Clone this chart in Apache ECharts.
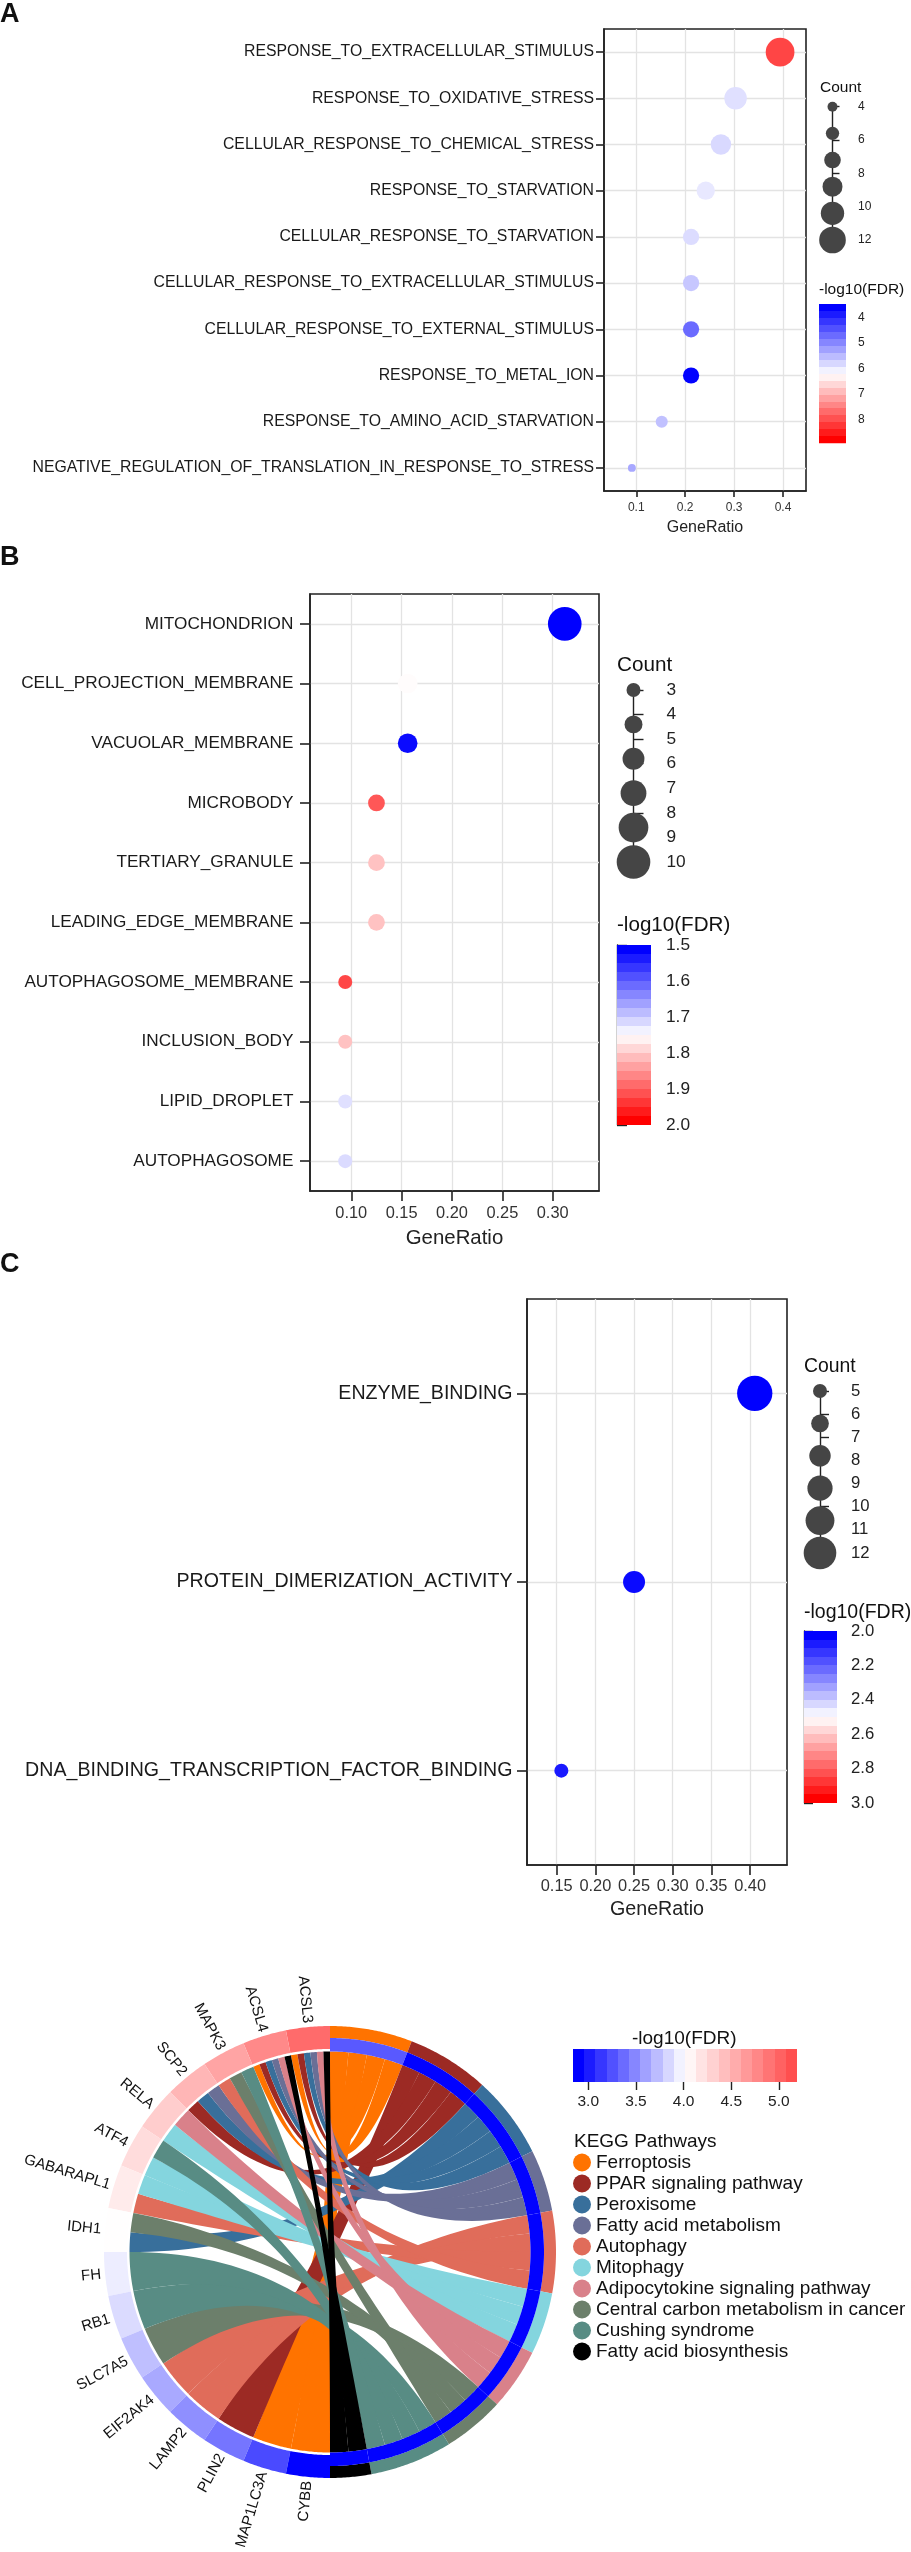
<!DOCTYPE html>
<html>
<head>
<meta charset="utf-8">
<script src="https://cdn.jsdelivr.net/npm/echarts@6/dist/echarts.min.js"></script>
<style>
  html, body { margin: 0; padding: 0; background: #fff; }
  #main { width: 911px; height: 2552px; }
</style>
</head>
<body>
<div id="main"></div>
<script>
// ---- A: biological process ----
const bpTerms = ['RESPONSE_TO_EXTRACELLULAR_STIMULUS', 'RESPONSE_TO_OXIDATIVE_STRESS', 'CELLULAR_RESPONSE_TO_CHEMICAL_STRESS',
  'RESPONSE_TO_STARVATION', 'CELLULAR_RESPONSE_TO_STARVATION', 'CELLULAR_RESPONSE_TO_EXTRACELLULAR_STIMULUS',
  'CELLULAR_RESPONSE_TO_EXTERNAL_STIMULUS', 'RESPONSE_TO_METAL_ION', 'RESPONSE_TO_AMINO_ACID_STARVATION',
  'NEGATIVE_REGULATION_OF_TRANSLATION_IN_RESPONSE_TO_STRESS'];
const bpRatio = [0.394, 0.303, 0.273, 0.242, 0.212, 0.212, 0.212, 0.212, 0.152, 0.091];
const bpCount = [13, 10, 9, 8, 7, 7, 7, 7, 5, 3];
const bpFdr = [8.2, 5.88, 5.8, 5.96, 5.83, 5.61, 4.63, 3.5, 5.55, 5.28];

// ---- B: cellular component ----
const ccTerms = ['MITOCHONDRION', 'CELL_PROJECTION_MEMBRANE', 'VACUOLAR_MEMBRANE', 'MICROBODY', 'TERTIARY_GRANULE',
  'LEADING_EDGE_MEMBRANE', 'AUTOPHAGOSOME_MEMBRANE', 'INCLUSION_BODY', 'LIPID_DROPLET', 'AUTOPHAGOSOME'];
const ccRatio = [0.312, 0.156, 0.156, 0.125, 0.125, 0.125, 0.094, 0.094, 0.094, 0.094];
const ccCount = [10, 5, 5, 4, 4, 4, 3, 3, 3, 3];
const ccFdr = [1.5, 1.753, 1.51, 1.915, 1.81, 1.81, 1.93, 1.81, 1.72, 1.715];

// ---- C: molecular function ----
const mfTerms = ['ENZYME_BINDING', 'PROTEIN_DIMERIZATION_ACTIVITY', 'DNA_BINDING_TRANSCRIPTION_FACTOR_BINDING'];
const mfRatio = [0.406, 0.25, 0.156];
const mfCount = [13, 8, 5];
const mfFdr = [2.0, 2.02, 2.05];

// legend breaks / ticks
const bpCountBreaks = [4, 5.6, 7.2, 8.8, 10.4, 12];
const ccCountBreaks = [3, 4.4, 5.8, 7.2, 8.6, 10];
const mfCountBreaks = [5, 6.4, 7.8, 9.2, 10.6, 12];
const bpRatioTicks = [0.1, 0.2, 0.3, 0.4];
const ccRatioTicks = [0.10, 0.15, 0.20, 0.25, 0.30];
const mfRatioTicks = [0.15, 0.20, 0.25, 0.30, 0.35, 0.40];
const bpFdrTicks = [4, 5, 6, 7, 8];
const ccFdrTicks = [1.5, 1.6, 1.7, 1.8, 1.9, 2.0];
const mfFdrTicks = [2.0, 2.2, 2.4, 2.6, 2.8, 3.0];

// ---- KEGG chord ----
const genes = ['ACSL3', 'ACSL4', 'MAPK3', 'SCP2', 'RELA', 'ATF4', 'GABARAPL1', 'IDH1',
  'FH', 'RB1', 'SLC7A5', 'EIF2AK4', 'LAMP2', 'PLIN2', 'MAP1LC3A', 'CYBB'];
const geneFdr = [5.0, 4.8, 4.62, 4.5, 4.35, 4.25, 4.15, 4.02, 3.93, 3.85, 3.72, 3.62, 3.5, 3.38, 3.18, 2.85];
const pathways = ['Ferroptosis', 'PPAR signaling pathway', 'Peroxisome', 'Fatty acid metabolism', 'Autophagy',
  'Mitophagy', 'Adipocytokine signaling pathway', 'Central carbon metabolism in cancer', 'Cushing syndrome',
  'Fatty acid biosynthesis'];
const pathwayColors = ['#ff7300', '#9c2a24', '#386f9b', '#6a6f96', '#e06c5a', '#84d5de', '#d9818a', '#6c7f6b', '#588c84', '#000000'];
const pathwayFdr = [3.25, 2.85, 2.85, 2.85, 2.85, 2.85, 2.85, 2.85, 2.85, 2.85];
const pathwayGenes = [
  ['ACSL3', 'ACSL4', 'MAP1LC3A', 'CYBB'],
  ['ACSL3', 'ACSL4', 'SCP2', 'PLIN2'],
  ['ACSL3', 'ACSL4', 'SCP2', 'IDH1'],
  ['ACSL3', 'ACSL4', 'SCP2'],
  ['MAPK3', 'GABARAPL1', 'EIF2AK4', 'LAMP2'],
  ['RELA', 'ATF4', 'GABARAPL1'],
  ['ACSL3', 'ACSL4', 'RELA'],
  ['MAPK3', 'IDH1', 'SLC7A5'],
  ['MAPK3', 'ATF4', 'FH', 'RB1'],
  ['ACSL3', 'ACSL4']
];
const chordFdrTicks = [3.0, 3.5, 4.0, 4.5, 5.0];

const FONT = '"Liberation Sans", Arial, Helvetica, sans-serif';
const FDR_COLORS = ['#0000ff', '#ffffff', '#ff0000'];
const CHORD_COLORS = ['#0000ff', '#ffffff', '#ff4f4f'];

function hexRgb(h) { return [1, 3, 5].map(i => parseInt(h.substr(i, 2), 16)); }
function lerpColor(cols, t) {
  const n = cols.length - 1;
  const s = Math.min(n - 1, Math.floor(t * n));
  const f = t * n - s;
  const a = hexRgb(cols[s]), b = hexRgb(cols[s + 1]);
  return 'rgb(' + a.map((v, k) => Math.round(v + (b[k] - v) * f)).join(',') + ')';
}
// ggplot-like stepped colourbar (20 bins)
function stepGradient(cols, horizontal) {
  const bins = 20, stops = [];
  for (let i = 0; i < bins; i++) {
    const c = lerpColor(cols, i / (bins - 1));
    stops.push({ offset: i / bins, color: c }, { offset: (i + 1) / bins, color: c });
  }
  return new echarts.graphic.LinearGradient(0, 0, horizontal ? 1 : 0, horizontal ? 0 : 1, stops);
}
function barRender(cols, horizontal) {
  return function (params, api) {
    const a = api.coord([api.value(0), api.value(1)]);
    const b = api.coord([api.value(2), api.value(3)]);
    return {
      type: 'rect',
      shape: { x: Math.min(a[0], b[0]), y: Math.min(a[1], b[1]), width: Math.abs(b[0] - a[0]), height: Math.abs(b[1] - a[1]) },
      style: { fill: stepGradient(cols, horizontal) }
    };
  };
}

const option = {
  animation: false,
  backgroundColor: '#fff',
  textStyle: { fontFamily: FONT },
  title: [], grid: [], xAxis: [], yAxis: [], series: [], visualMap: [], legend: []
};

function addTitle(text, left, top, size, bold) {
  option.title.push({ text, left, top, padding: 0,
    textStyle: { fontSize: size, fontWeight: bold ? 'bold' : 'normal', color: '#111', fontFamily: FONT } });
}

function dotPanel(p) {
  const line = { color: '#222', width: 1.6 };
  const grid = { color: '#e3e3e3', width: 1.3 };
  const g = option.grid.length;
  option.grid.push({ left: p.box[0], top: p.box[1], width: p.box[2], height: p.box[3], show: true, borderColor: '#222', borderWidth: 1.6 });
  option.xAxis.push({
    gridIndex: g, type: 'value', min: p.xMin, max: p.xMax,
    axisLine: { show: true, onZero: false, lineStyle: line },
    axisTick: { show: true, length: p.xTickLen, customValues: p.xTicks, lineStyle: line },
    axisLabel: { customValues: p.xTicks, formatter: v => v.toFixed(p.dec), fontSize: p.tickSize, color: '#333', margin: p.xLabelMargin },
    splitLine: { show: true, customValues: p.xTicks, lineStyle: grid },
    name: 'GeneRatio', nameLocation: 'middle', nameGap: p.nameGap,
    nameTextStyle: { fontSize: p.nameSize, color: '#222' }
  });
  option.yAxis.push({
    gridIndex: g, type: 'category', data: p.terms, inverse: true,
    axisLine: { show: true, lineStyle: line },
    axisTick: { show: true, length: p.yTickLen, alignWithLabel: true, lineStyle: line },
    axisLabel: { fontSize: p.termSize, color: '#1a1a1a', margin: p.yLabelMargin },
    splitLine: { show: true, alignWithLabel: true, lineStyle: grid }
  });
  const s = option.series.length;
  option.series.push({
    type: 'scatter', xAxisIndex: g, yAxisIndex: g, silent: true, z: 3,
    data: p.terms.map((t, i) => [p.ratio[i], t, p.fdr[i], p.count[i]]),
    symbolSize: v => p.size(v[3]),
    itemStyle: { opacity: 1 }
  });
  option.visualMap.push({ type: 'continuous', show: false, seriesIndex: s, dimension: 2,
    min: p.fdrMin, max: p.fdrMax, inRange: { color: FDR_COLORS } });

  // Count legend: circles on their own value axis
  const c = p.cnt;
  const lg = option.grid.length;
  option.grid.push({ left: c.box[0], top: c.box[1], width: c.box[2], height: c.box[3] });
  option.xAxis.push({ gridIndex: lg, type: 'value', min: -1, max: 1, show: false });
  option.yAxis.push({
    gridIndex: lg, type: 'value', position: 'right', inverse: true, min: c.min, max: c.max, interval: c.step,
    axisLine: { show: true, lineStyle: { color: '#222', width: 1.4 } },
    axisTick: { show: true, length: c.tick, lineStyle: { color: '#222', width: 1.4 } },
    axisLabel: { fontSize: c.font, color: '#222', margin: c.margin },
    splitLine: { show: false }
  });
  option.series.push({
    type: 'scatter', xAxisIndex: lg, yAxisIndex: lg, silent: true,
    data: c.breaks.map(v => [0, v]),
    symbolSize: v => p.size(v[1]),
    itemStyle: { color: '#454545', opacity: 1 }
  });

  // -log10(FDR) colourbar
  const b = p.bar;
  const cg = option.grid.length;
  option.grid.push({ left: b.box[0], top: b.box[1], width: b.box[2], height: b.box[3] });
  option.xAxis.push({ gridIndex: cg, type: 'value', min: 0, max: 1, show: false });
  option.yAxis.push({
    gridIndex: cg, type: 'value', position: 'right', inverse: true, min: p.fdrMin, max: p.fdrMax,
    axisLine: { show: b.line, lineStyle: { color: '#222', width: 1.4 } },
    axisTick: { show: true, length: b.tick, customValues: b.ticks, lineStyle: { color: '#222', width: 1.4 } },
    axisLabel: { customValues: b.ticks, formatter: v => v.toFixed(b.dec), fontSize: c.font, color: '#222', margin: b.margin },
    splitLine: { show: false }
  });
  option.series.push({ type: 'custom', xAxisIndex: cg, yAxisIndex: cg, silent: true,
    data: [[0, p.fdrMin, 1, p.fdrMax]], renderItem: barRender(FDR_COLORS, false) });

  addTitle('Count', c.title[0], c.title[1], c.title[2]);
  addTitle('-log10(FDR)', b.title[0], b.title[1], b.title[2]);
}

dotPanel({
  terms: bpTerms, ratio: bpRatio, count: bpCount, fdr: bpFdr,
  box: [604, 29, 202, 462], xMin: 0.034, xMax: 0.447, xTicks: bpRatioTicks, dec: 1,
  xTickLen: 6, tickSize: 12, xLabelMargin: 11, nameGap: 29, nameSize: 16,
  yTickLen: 8, termSize: 15.8, yLabelMargin: 10,
  fdrMin: 3.48, fdrMax: 8.94, size: n => 1.667 + 2.083 * n,
  cnt: { box: [818, 106.7, 29, 133.3], min: 4, max: 12, step: 2, breaks: bpCountBreaks, tick: 7, font: 12, margin: 11, title: [820, 80, 15.5] },
  bar: { box: [819, 304, 27, 139.3], ticks: bpFdrTicks, dec: 0, tick: 9, margin: 12, line: false, title: [819, 282, 15.5] }
});

dotPanel({
  terms: ccTerms, ratio: ccRatio, count: ccCount, fdr: ccFdr,
  box: [310, 594, 289, 597], xMin: 0.059, xMax: 0.346, xTicks: ccRatioTicks, dec: 2,
  xTickLen: 10, tickSize: 16.4, xLabelMargin: 14, nameGap: 37, nameSize: 20.4,
  yTickLen: 10, termSize: 17.2, yLabelMargin: 16.6,
  fdrMin: 1.5, fdrMax: 2.0, size: n => 5.56 + 2.81 * n,
  cnt: { box: [615, 690, 37, 172], min: 3, max: 10, step: 1, breaks: ccCountBreaks, tick: 10, font: 17.3, margin: 14.5, title: [617, 654.5, 20.7] },
  bar: { box: [617, 945, 34, 180], ticks: ccFdrTicks, dec: 1, tick: 10, margin: 15, line: true, title: [617, 914.7, 20.6] }
});

dotPanel({
  terms: mfTerms, ratio: mfRatio, count: mfCount, fdr: mfFdr,
  box: [527, 1299, 260, 566], xMin: 0.1116, xMax: 0.4477, xTicks: mfRatioTicks, dec: 2,
  xTickLen: 10, tickSize: 16.4, xLabelMargin: 13, nameGap: 35, nameSize: 19.7,
  yTickLen: 10, termSize: 19.6, yLabelMargin: 14.5,
  fdrMin: 2.0, fdrMax: 3.0, size: n => 0.7 + 2.66 * n,
  cnt: { box: [803, 1391, 34, 162], min: 5, max: 12, step: 1, breaks: mfCountBreaks, tick: 9, font: 16.7, margin: 14, title: [804, 1357, 19.4] },
  bar: { box: [804, 1631, 33, 172], ticks: mfFdrTicks, dec: 1, tick: 9, margin: 14, line: true, title: [804, 1603, 19.5] }
});

addTitle('A', 0, 1, 27, true);
addTitle('B', 0, 544, 27, true);
addTitle('C', 0, 1251, 27, true);

// ---- chord layout (GOChord style: genes left half, pathways right half) ----
const R_OUT = 226, R_MID = 214, R_GENE_IN = 203, R_LINK = 200.5, R_LABEL = 230;
option.polar = [{ center: [330, 2252], radius: R_OUT }];
option.angleAxis = [{ polarIndex: 0, type: 'value', min: 0, max: 360, startAngle: 90, clockwise: true, show: false }];
option.radiusAxis = [{ polarIndex: 0, type: 'value', min: 0, max: R_OUT, show: false }];

const nLinks = pathwayGenes.reduce((s, a) => s + a.length, 0);
const pUnit = 180 / nLinks;
const gSpan = 180 / genes.length;
const geneLinks = genes.map(g => pathways.map((p, j) => j).filter(j => pathwayGenes[j].includes(g)));
let acc = 0;
const pathArcs = pathwayGenes.map(list => { const a0 = acc; acc += list.length * pUnit; return [a0, acc]; });
function geneArc(gi, j) {
  const k = geneLinks[gi].indexOf(j), w = gSpan / geneLinks[gi].length;
  const a0 = 360 - gSpan * (gi + 1);
  return [a0 + k * w, a0 + (k + 1) * w];
}
const ribbonData = pathwayGenes.map((list, j) =>
  list.map(g => genes.indexOf(g)).sort((a, b) => b - a).map((gi, k) => {
    const ga = geneArc(gi, j), p0 = pathArcs[j][0] + k * pUnit;
    return [ga[0], ga[1], p0, p0 + pUnit];
  }));

function arc(api, a0, a1, r) {
  const n = Math.max(2, Math.ceil(Math.abs(a1 - a0) / 0.5)), pts = [];
  for (let k = 0; k <= n; k++) pts.push(api.coord([r, a0 + (a1 - a0) * k / n]));
  return pts;
}
function bezier(p0, c, p2) {
  const pts = [];
  for (let k = 1; k < 40; k++) {
    const t = k / 40, u = 1 - t;
    pts.push([u * u * p0[0] + 2 * u * t * c[0] + t * t * p2[0], u * u * p0[1] + 2 * u * t * c[1] + t * t * p2[1]]);
  }
  return pts;
}
function ribbonPoints(api, g0, g1, p0, p1) {
  const c = api.coord([0, 0]);
  const ga = arc(api, g0, g1, R_LINK), pa = arc(api, p0, p1, R_LINK);
  return ga.concat(bezier(ga[ga.length - 1], c, pa[0]), pa, bezier(pa[pa.length - 1], c, ga[0]));
}

pathways.forEach((name, j) => {
  option.series.push({
    type: 'custom', name, coordinateSystem: 'polar', polarIndex: 0, silent: true, z: 2, clip: false,
    itemStyle: { color: pathwayColors[j] },
    data: ribbonData[j],
    renderItem: (params, api) => ({
      type: 'polygon',
      shape: { points: ribbonPoints(api, api.value(0), api.value(1), api.value(2), api.value(3)) },
      style: { fill: pathwayColors[j] }
    })
  });
});

const geneRingIdx = option.series.length;
option.series.push({
  type: 'custom', coordinateSystem: 'polar', polarIndex: 0, silent: true, z: 3, clip: false,
  data: genes.map((g, i) => [360 - gSpan * (i + 1), 360 - gSpan * i, geneFdr[i]]),
  renderItem: (params, api) => {
    const a0 = api.value(0), a1 = api.value(1), mid = (a0 + a1) / 2;
    const pos = api.coord([R_LABEL, mid]);
    return {
      type: 'group',
      children: [
        { type: 'polygon', shape: { points: arc(api, a0, a1, R_OUT).concat(arc(api, a1, a0, R_GENE_IN)) },
          style: { fill: api.visual('color') } },
        { type: 'text', x: pos[0], y: pos[1], rotation: (270 - mid) * Math.PI / 180,
          style: { text: genes[params.dataIndex], fontSize: 15, fontFamily: FONT, fill: '#111', align: 'right', verticalAlign: 'middle' } }
      ]
    };
  }
});

const pathRingIdx = option.series.length;
option.series.push({
  type: 'custom', coordinateSystem: 'polar', polarIndex: 0, silent: true, z: 3, clip: false,
  data: pathArcs.map((a, j) => [a[0], a[1], pathwayFdr[j]]),
  renderItem: (params, api) => {
    const a0 = api.value(0), a1 = api.value(1);
    return {
      type: 'group',
      children: [
        { type: 'polygon', shape: { points: arc(api, a0, a1, R_OUT).concat(arc(api, a1, a0, R_MID)) },
          style: { fill: pathwayColors[params.dataIndex] } },
        { type: 'polygon', shape: { points: arc(api, a0, a1, R_MID).concat(arc(api, a1, a0, R_LINK)) },
          style: { fill: api.visual('color') } }
      ]
    };
  }
});
option.visualMap.push({ type: 'continuous', show: false, seriesIndex: [geneRingIdx, pathRingIdx], dimension: 2,
  min: 2.84, max: 5.19, inRange: { color: CHORD_COLORS } });

// chord colourbar
const kg = option.grid.length;
option.grid.push({ left: 573, top: 2049, width: 224, height: 33 });
option.xAxis.push({
  gridIndex: kg, type: 'value', min: 2.84, max: 5.19,
  axisLine: { show: false },
  axisTick: { show: true, length: 8, customValues: chordFdrTicks, lineStyle: { color: '#222', width: 1.4 } },
  axisLabel: { customValues: chordFdrTicks, formatter: v => v.toFixed(1), fontSize: 15.5, color: '#222', margin: 12 },
  splitLine: { show: false }
});
option.yAxis.push({ gridIndex: kg, type: 'value', min: 0, max: 1, show: false });
option.series.push({ type: 'custom', xAxisIndex: kg, yAxisIndex: kg, silent: true,
  data: [[2.84, 0, 5.19, 1]], renderItem: barRender(CHORD_COLORS, true) });
addTitle('-log10(FDR)', 632, 2029.5, 19);
addTitle('KEGG Pathways', 574, 2132.5, 19);

option.legend.push({
  data: pathways, orient: 'vertical', left: 573, top: 2153, padding: 0,
  icon: 'circle', itemWidth: 18, itemHeight: 18, itemGap: 2, selectedMode: false,
  textStyle: { fontSize: 19, color: '#111', fontFamily: FONT }
});

const chart = echarts.init(document.getElementById('main'), null, { renderer: 'canvas' });
chart.setOption(option);
</script>
</body>
</html>
